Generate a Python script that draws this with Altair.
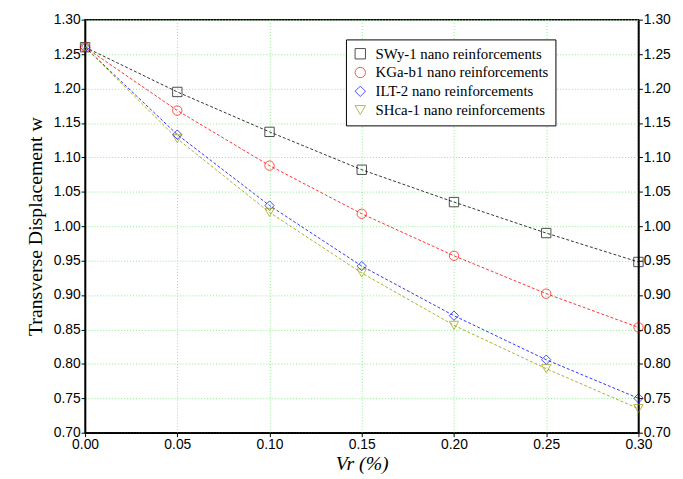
import altair as alt
import pandas as pd

vr = [0.00, 0.05, 0.10, 0.15, 0.20, 0.25, 0.30]
series = ['SWy-1 nano reinforcements', 'KGa-b1 nano reinforcements',
          'ILT-2 nano reinforcements', 'SHca-1 nano reinforcements']
swy = [1.260, 1.195, 1.137, 1.082, 1.035, 0.990, 0.948]
kga = [1.260, 1.168, 1.088, 1.018, 0.957, 0.902, 0.853]
ilt = [1.260, 1.133, 1.030, 0.942, 0.870, 0.806, 0.750]
shca = [1.260, 1.127, 1.020, 0.932, 0.856, 0.793, 0.735]

rows = []
for name, vals in zip(series, [swy, kga, ilt, shca]):
    for x, y in zip(vr, vals):
        rows.append({'vr': x, 'w': y, 'series': name})
df = pd.DataFrame(rows)

font = 'Liberation Serif'
colors = ['#000000', '#ff0000', '#0000ff', '#999900']
shapes = ['square', 'circle', 'diamond', 'triangle-down']

xs = alt.Scale(domain=[0, 0.3], nice=False, padding=0, zero=False)
ys = alt.Scale(domain=[0.7, 1.3], nice=False, padding=0, zero=False)
xvals = [round(i * 0.05, 2) for i in range(7)]
yvals = [round(0.7 + i * 0.05, 2) for i in range(13)]

legend = alt.Legend(title=None, orient='none', legendX=264, legendY=20,
                    strokeColor='black', fillColor='white', padding=7,
                    labelFont=font, labelFontSize=15, labelLimit=400, symbolSize=110,
                    symbolStrokeWidth=1, rowPadding=3, labelOffset=8)
color = alt.Color('series:N', scale=alt.Scale(domain=series, range=colors), legend=legend)
shape = alt.Shape('series:N', scale=alt.Scale(domain=series, range=shapes), legend=legend)

xaxis = alt.X('vr:Q', scale=xs, title='Vr (%)',
              axis=alt.Axis(values=xvals, format='.2f', grid=True, gridColor='#88ee88',
                            gridDash=[1, 2], titleFontStyle='italic', titleFontSize=20,
                            titleFontWeight='normal', titlePadding=2, labelFlush=False))

base = alt.Chart(df)

lines = base.mark_line(strokeDash=[3, 2], strokeWidth=0.8).encode(
    x=xaxis,
    y=alt.Y('w:Q', scale=ys, axis=None),
    color=color,
    detail='series:N'
)

points = base.mark_point(size=90, filled=False, strokeWidth=1).encode(
    x=xaxis,
    y=alt.Y('w:Q', scale=ys, title='Transverse Displacement w',
            axis=alt.Axis(values=yvals, format='.2f', grid=True, gridColor='#88ee88',
                          gridDash=[1, 2], titleFontSize=20, titleFontWeight='normal',
                          titlePadding=8)),
    color=color,
    shape=shape
)

right = alt.Chart(pd.DataFrame({'w': [0.7, 1.3]})).mark_point(opacity=0).encode(
    y=alt.Y('w:Q', scale=ys, axis=alt.Axis(orient='right', values=yvals, format='.2f',
                                           title='', grid=False))
)

chart = alt.layer(lines, points, right).resolve_scale(y='independent').properties(
    width=560, height=418,
    autosize=alt.AutoSizeParams(type='none'),
    padding={'left': 78, 'top': 9, 'right': 37, 'bottom': 40}
).configure_axis(
    labelFont='Liberation Sans', labelFontSize=14, titleFont=font, labelColor='black',
    titleColor='black', domainColor='black', domainWidth=1.5, tickColor='black',
    tickSize=4, labelPadding=1
).configure_view(stroke='black', strokeWidth=1.5)

chart.save('out.html', embed_options={'renderer': 'svg', 'actions': False})
